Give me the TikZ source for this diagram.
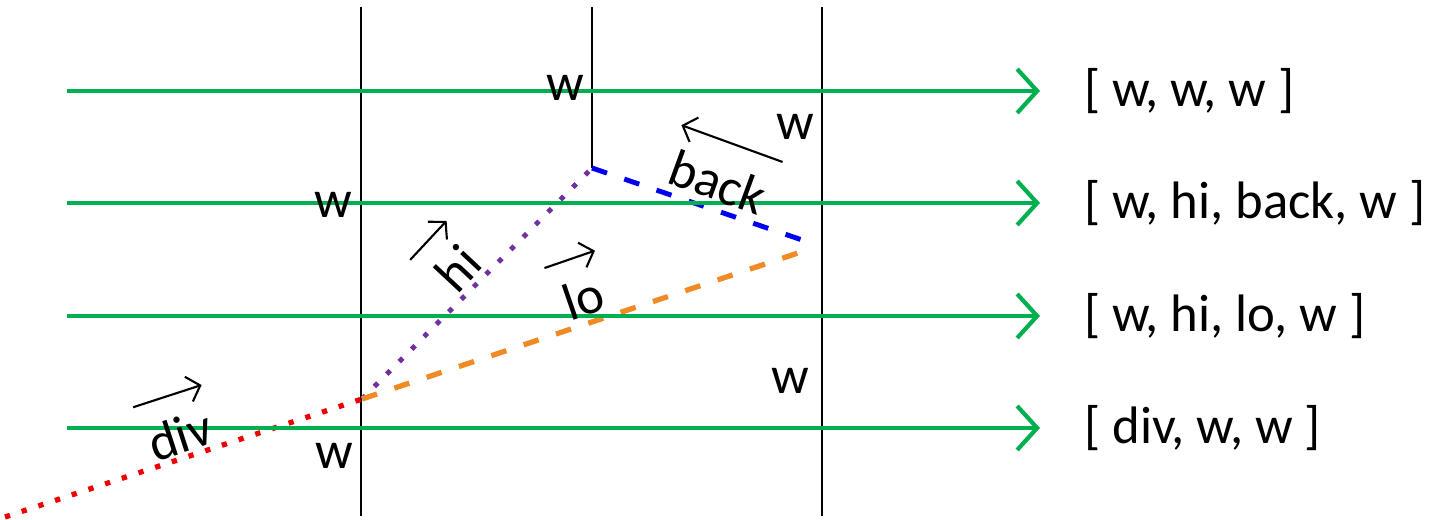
\documentclass[tikz,border=0pt]{standalone}
\usepackage{fontspec}
\setmainfont{Carlito}
\usepackage{tikz}
\usetikzlibrary{arrows.meta,calc}
\definecolor{rowgreen}{HTML}{00B050}
\definecolor{hipurple}{HTML}{7030A0}
\definecolor{loorange}{HTML}{F08A24}
\definecolor{backblue}{HTML}{0000F0}
\definecolor{divred}{HTML}{F00000}

\begin{document}
\begin{tikzpicture}[x=1cm, y=1cm,
    txt/.style={font=\fontsize{15}{18}\selectfont, inner sep=1pt},
    raylbl/.style={txt, minimum width=0.52cm},
    wall/.style={black, line width=0.8pt},
    row/.style={rowgreen, line width=1.2pt,
                -{Straight Barb[length=2mm, width=4.4mm, line width=1.2pt]}},
    vec/.style={black, line width=0.6pt, -{Straight Barb[length=1.2mm, width=2.6mm]}}]
  \useasboundingbox (0,0) rectangle (14.3,5.2);
  % the walls; the middle one stops where the ray turns back
  \coordinate (corner) at (5.92,3.52);
  \draw[wall] (3.61,5.13) -- (3.61,0.04);
  \draw[wall] (5.92,5.13) -- (corner);
  \draw[wall] (8.22,5.13) -- (8.22,0.04);
  % the pieces of the ray
  \coordinate (start) at (0.05,0.03);
  \coordinate (split) at (3.62,1.21);
  \coordinate (backend) at (8.05,2.79);
  \coordinate (loend) at (8.04,2.69);
  \draw[divred, line width=1.5pt, dash pattern=on 1.5pt off 3.5pt] (start) -- (split);
  \draw[hipurple, line width=1.4pt, dash pattern=on 1.4pt off 3.6pt] (split) -- (corner);
  \draw[loorange, line width=1.5pt, dash pattern=on 4.5pt off 5.2pt] (split) -- (loend);
  \draw[backblue, line width=1.4pt, dash pattern=on 4.5pt off 5.2pt] (corner) -- (backend);
  % the rows and what each one sees
  \foreach \y/\n/\t in {4.29/r1/{[ w, w, w ]}, 3.17/r2/{[ w, hi, back, w ]},
                        2.04/r3/{[ w, hi, lo, w ]}, 0.92/r4/{[ div, w, w ]}} {
    \node[txt, anchor=west] (\n) at (10.80,\y) {\t};
    \coordinate (\n s) at (0.67,\y);
    \draw[row] (\n s) -- ([xshift=-0.40cm]\n.west);}
  % wall labels
  \node[txt] (w1) at (5.65,4.32) {w};
  \node[txt] (w2) at (3.33,3.15) {w};
  \node[txt] (w3) at (7.95,3.93) {w};
  \node[txt] (w4) at (7.90,1.39) {w};
  \node[txt] (w5) at (3.34,0.64) {w};
  % names along the ray, each with its arrow
  \node[raylbl, rotate=18] (div) at (1.80,0.85) {div};
  \node[raylbl, rotate=47] (hi) at (4.58,2.52) {hi};
  \node[raylbl, rotate=19] (lo) at (5.83,2.22) {lo};
  \node[raylbl, rotate=-20] (back) at (7.18,3.38) {back};
  \foreach \n/\a/\b in {div/west/east, hi/west/east, lo/west/east, back/east/west}
    \draw[vec] ($(\n.north \a) + 0.8*(\n.north) - 0.8*(\n.center)$)
      -- ($(\n.north \b) + 0.8*(\n.north) - 0.8*(\n.center)$);
\end{tikzpicture}
\end{document}
